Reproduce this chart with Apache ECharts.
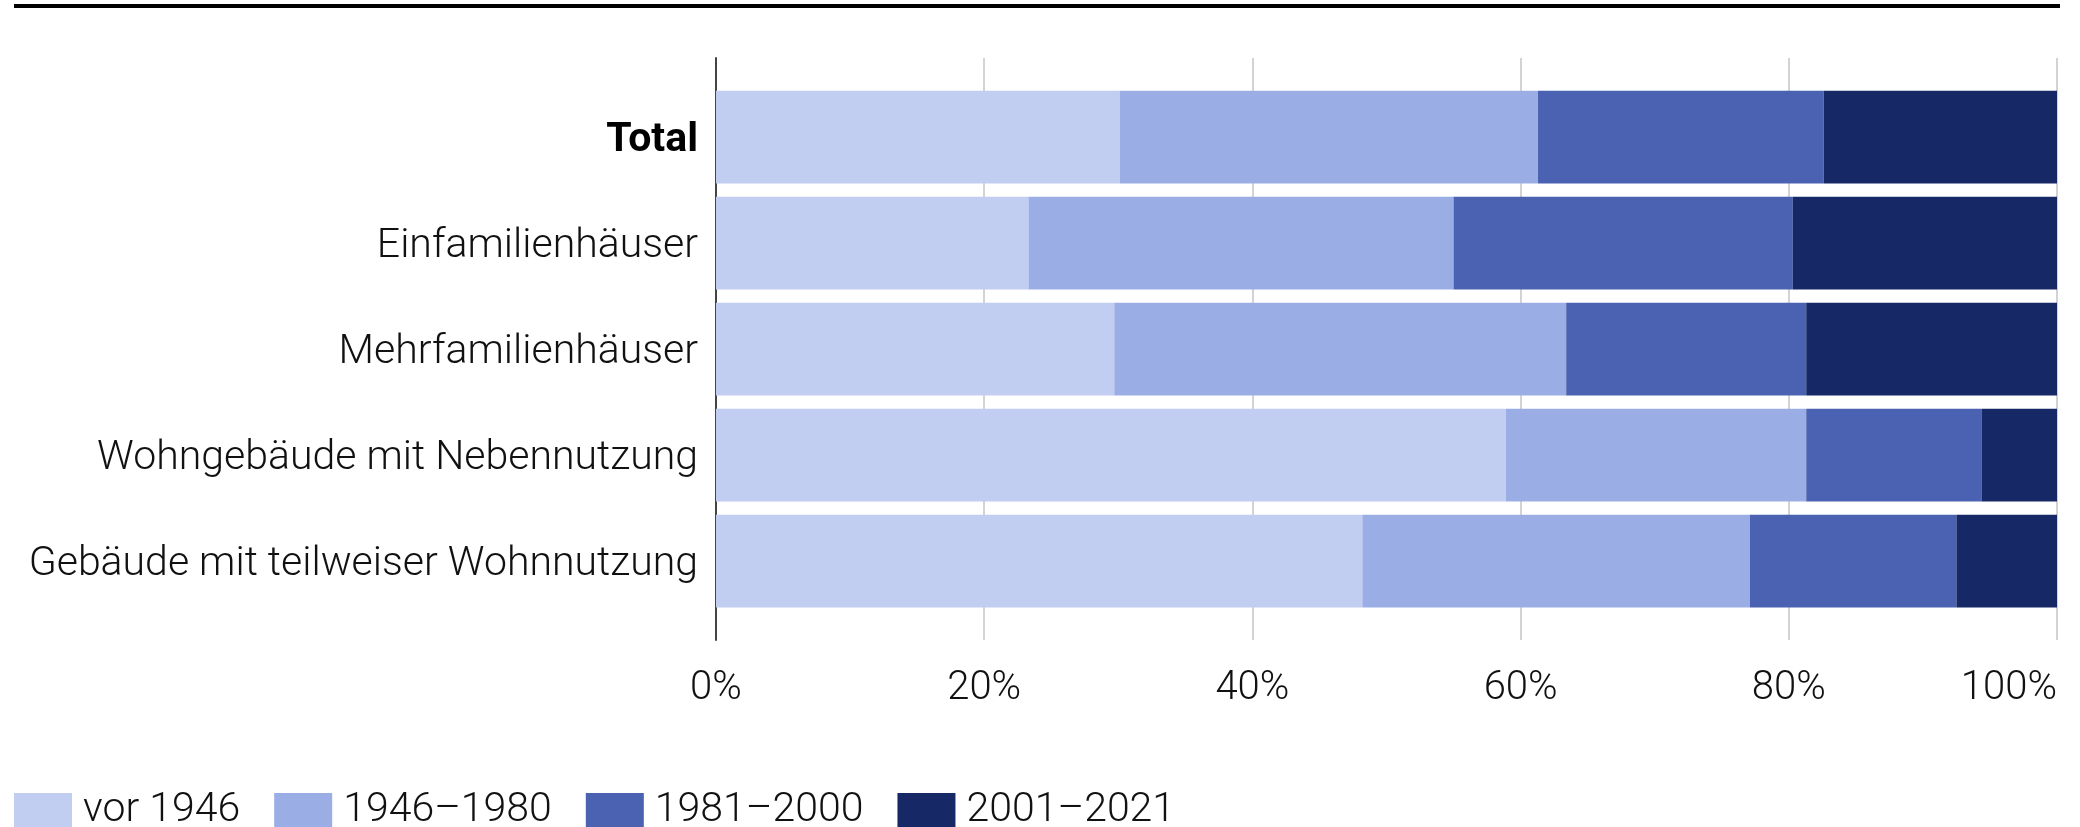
<!DOCTYPE html>
<html>
<head>
<meta charset="utf-8">
<script src="https://cdn.jsdelivr.net/npm/echarts@6/dist/echarts.min.js"></script>
<style>
  html, body { margin: 0; padding: 0; background: #fff; }
  #chart { width: 2080px; height: 827px; }
</style>
</head>
<body>
<div id="chart"></div>
<script>
// Building categories (top to bottom)
const categories = [
  'Total',
  'Einfamilienhäuser',
  'Mehrfamilienhäuser',
  'Wohngebäude mit Nebennutzung',
  'Gebäude mit teilweiser Wohnnutzung'
];

// Construction periods
const periods = ['vor 1946', '1946–1980', '1981–2000', '2001–2021'];

// Share of buildings per construction period, in percent
const vor1946    = [30.1, 23.3, 29.7, 58.9, 48.2];
const p1946_1980 = [31.2, 31.7, 33.7, 22.4, 28.9];
const p1981_2000 = [21.3, 25.3, 17.9, 13.1, 15.4];
const p2001_2021 = [17.4, 19.7, 18.7,  5.6,  7.5];

const seriesValues = [vor1946, p1946_1980, p1981_2000, p2001_2021];
const colors = ['#C2CEF1', '#9BADE5', '#4A62B1', '#162966'];

const FONT = 'Roboto';

const chart = echarts.init(document.getElementById('chart'), null, { renderer: 'canvas' });

chart.setOption({
  animation: false,
  backgroundColor: '#ffffff',
  color: colors,
  graphic: [
    {
      type: 'rect',
      shape: { x: 14, y: 4, width: 2046, height: 4 },
      style: { fill: '#000000' },
      silent: true
    }
  ],
  legend: {
    left: 14,
    top: 790,
    padding: 0,
    itemWidth: 58,
    itemHeight: 35,
    itemGap: 34,
    icon: 'rect',
    data: periods,
    textStyle: {
      fontFamily: FONT,
      fontWeight: 300,
      fontSize: 41,
      color: '#111',
      padding: [0, 0, 0, 6]
    }
  },
  grid: [
    // frame for gridlines, x-axis labels and the vertical axis line
    { left: 716, right: 23, top: 58, bottom: 187, containLabel: false },
    // bars
    { left: 716, right: 23, top: 84, height: 530, containLabel: false }
  ],
  xAxis: [
    {
      gridIndex: 0,
      type: 'value',
      min: 0,
      max: 100,
      interval: 20,
      axisLine: { show: false },
      axisTick: { show: false },
      splitLine: { show: true, lineStyle: { color: '#d3d3d3', width: 2 } },
      axisLabel: {
        formatter: '{value}%',
        fontFamily: FONT,
        fontWeight: 300,
        fontSize: 40,
        color: '#111',
        margin: 29,
        alignMaxLabel: 'right'
      }
    },
    {
      gridIndex: 1,
      type: 'value',
      min: 0,
      max: 100,
      show: false
    }
  ],
  yAxis: [
    {
      gridIndex: 0,
      type: 'value',
      min: 0,
      max: 1,
      axisLine: { show: true, onZero: false, lineStyle: { color: '#444', width: 2 } },
      axisTick: { show: false },
      axisLabel: { show: false },
      splitLine: { show: false }
    },
    {
      gridIndex: 1,
      type: 'category',
      inverse: true,
      data: categories,
      axisLine: { show: false },
      axisTick: { show: false },
      axisLabel: {
        margin: 18,
        padding: [8, 0, 0, 0],
        fontFamily: FONT,
        fontWeight: 300,
        fontSize: 41,
        color: '#111',
        formatter: function (v) { return v === 'Total' ? '{b|' + v + '}' : v; },
        rich: {
          b: { fontFamily: FONT, fontWeight: 'bold', fontSize: 41, color: '#000' }
        }
      }
    }
  ],
  series: periods.map(function (name, i) {
    return {
      name: name,
      type: 'bar',
      stack: 'total',
      xAxisIndex: 1,
      yAxisIndex: 1,
      barCategoryGap: '12.5%',
      itemStyle: { color: colors[i] },
      data: seriesValues[i]
    };
  })
});
</script>
</body>
</html>
